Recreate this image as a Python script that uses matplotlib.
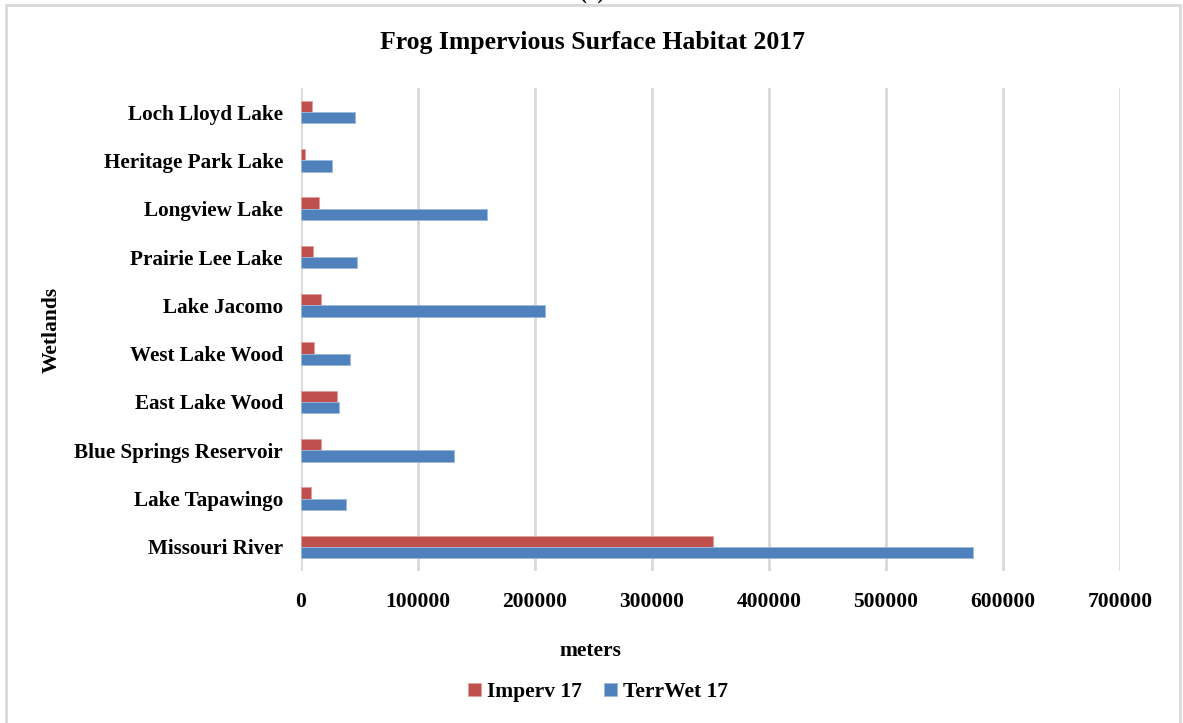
import matplotlib
matplotlib.use("Agg")
import matplotlib.pyplot as plt
from matplotlib.patches import Rectangle
import numpy as np

# Wetland sites, listed bottom-to-top as they appear on the category axis
wetlands = ["Missouri River", "Lake Tapawingo", "Blue Springs Reservoir",
            "East Lake Wood", "West Lake Wood", "Lake Jacomo",
            "Prairie Lee Lake", "Longview Lake", "Heritage Park Lake",
            "Loch Lloyd Lake"]
imperv_17 = [352400, 8500, 17400, 31000, 11400, 17400, 10300, 15400, 3100, 9000]
terrwet_17 = [574600, 38800, 130800, 32800, 42200, 208500, 47600, 159300, 26200, 46400]
x_ticks = [0, 100000, 200000, 300000, 400000, 500000, 600000, 700000]

RED = "#c0504d"
BLUE = "#4f81bd"
GRID = "#d9d9d9"

plt.rcParams["font.family"] = ["Liberation Serif", "DejaVu Serif"]
plt.rcParams["font.weight"] = "bold"

W, H = 1183, 723
fig = plt.figure(figsize=(W / 100, H / 100), dpi=100)

# chart frame
fig.patches.append(Rectangle((5.5 / W, -0.05), (1180 - 5.5) / W, 1.05 - 5.5 / H,
                             transform=fig.transFigure, fill=False,
                             edgecolor=GRID, linewidth=2))
fig.text(0.5, 1 + 7 / H, "(b)", ha="center", va="center", fontsize=15,
         fontweight="bold")

left, right, top, bottom = 301, 1120, 88, 571
ax = fig.add_axes([left / W, 1 - bottom / H, (right - left) / W, (bottom - top) / H])

y = np.arange(len(wetlands))
h = 0.234
ax.barh(y + h / 2, imperv_17, height=h, color=RED, label="Imperv 17",
        edgecolor="#e0a09e", linewidth=0.6, zorder=3)
ax.barh(y - h / 2, terrwet_17, height=h, color=BLUE, label="TerrWet 17",
        edgecolor="#9cb8dc", linewidth=0.6, zorder=3)

ax.set_xlim(0, 700000)
ax.set_ylim(-0.5, len(wetlands) - 0.5)
ax.set_xticks(x_ticks)
ax.set_xticklabels([str(v) for v in x_ticks], fontsize=15.5, fontweight="bold")
ax.set_yticks(y)
ax.set_yticklabels(wetlands, fontsize=15.2, fontweight="bold")
ax.tick_params(axis="x", length=0, pad=15)
ax.tick_params(axis="y", length=0, pad=13)

ax.grid(axis="x", color=GRID, linewidth=2, zorder=0)
ax.set_axisbelow(True)
for s in ax.spines.values():
    s.set_visible(False)

fig.text(593 / W, 1 - 43 / H, "Frog Impervious Surface Habitat 2017",
         ha="center", va="center", fontsize=18.5, fontweight="bold")
fig.text(590 / W, 1 - 651 / H, "meters", ha="center", va="center",
         fontsize=15.5, fontweight="bold")
fig.text(52 / W, 1 - 330 / H, "Wetlands", ha="center", va="center",
         rotation=90, fontsize=15.5, fontweight="bold")

fig.legend(loc="center", bbox_to_anchor=(598 / W, 1 - 692 / H), ncol=2,
           frameon=False, handlelength=0.6, handleheight=0.6,
           handletextpad=0.3, columnspacing=1.0,
           prop={"weight": "bold", "size": 15.5})

fig.savefig("out.png", dpi=100)
